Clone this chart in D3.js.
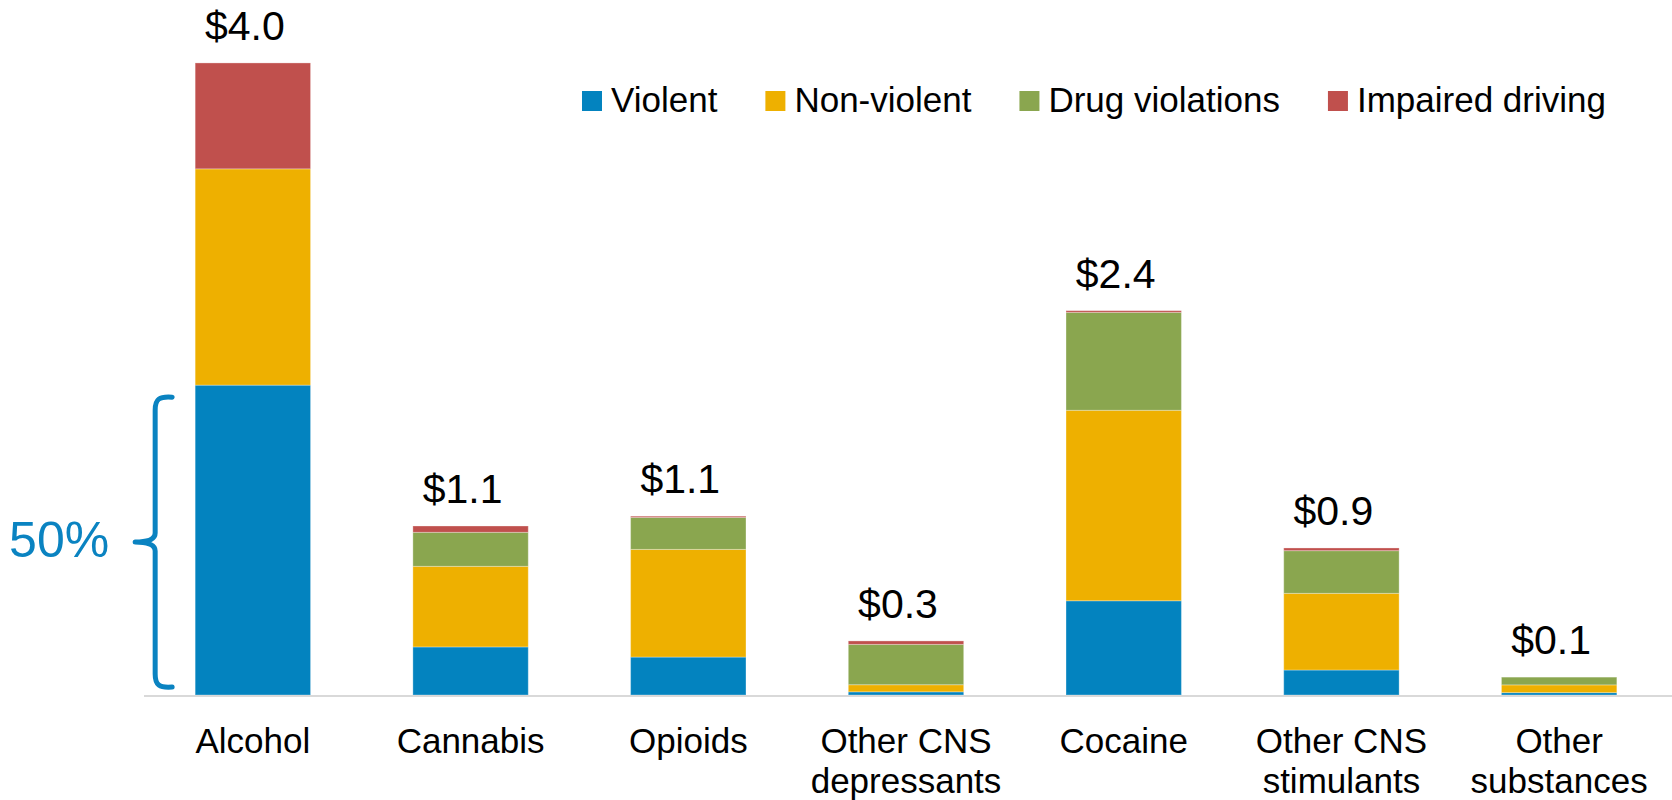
<!DOCTYPE html>
<html>
<head>
<meta charset="utf-8">
<script src="https://cdn.jsdelivr.net/npm/d3@7"></script>
<style>
  html, body { margin: 0; padding: 0; background: #fff; }
  svg { display: block; font-family: "Liberation Sans", Arial, sans-serif; }
</style>
</head>
<body>
<svg id="chart" width="1672" height="800"></svg>
<script>
// Substance categories (axis labels, split over lines)
const categories = ["Alcohol", "Cannabis", "Opioids", "Other CNS depressants", "Cocaine", "Other CNS stimulants", "Other substances"];
const categoryLines = [["Alcohol"], ["Cannabis"], ["Opioids"], ["Other CNS", "depressants"], ["Cocaine"], ["Other CNS", "stimulants"], ["Other", "substances"]];

// Criminal justice costs by crime type ($ billions)
const seriesNames = ["Violent", "Non-violent", "Drug violations", "Impaired driving"];
const violent         = [1.960, 0.304, 0.240, 0.020, 0.596, 0.158, 0.015];
const nonViolent      = [1.368, 0.510, 0.681, 0.045, 1.205, 0.485, 0.049];
const drugViolations  = [0.000, 0.215, 0.202, 0.255, 0.619, 0.270, 0.049];
const impairedDriving = [0.670, 0.040, 0.008, 0.022, 0.011, 0.017, 0.000];
const seriesColors = ["#0383BF", "#EEB000", "#8AA64F", "#C0504D"];

const yMax = 4.2;
const shareLabel = "50%";

const svg = d3.select("#chart");
const W = 1672;

const rows = categories.map((c, i) => ({
  category: c,
  "Violent": violent[i],
  "Non-violent": nonViolent[i],
  "Drug violations": drugViolations[i],
  "Impaired driving": impairedDriving[i]
}));

const x = d3.scaleBand()
  .domain(categories)
  .range([144, 1668])
  .paddingInner(0.47)
  .paddingOuter(0.235);

const y = d3.scaleLinear().domain([0, yMax]).range([695, 31]);

const color = d3.scaleOrdinal().domain(seriesNames).range(seriesColors);

const stacked = d3.stack().keys(seriesNames)(rows);

// Stacked bars
svg.append("g")
  .selectAll("g")
  .data(stacked)
  .join("g")
  .attr("fill", d => color(d.key))
  .selectAll("rect")
  .data(d => d.map(s => ({ s, cat: s.data.category })))
  .join("rect")
  .attr("x", d => x(d.cat))
  .attr("width", x.bandwidth())
  .attr("y", d => y(d.s[1]))
  .attr("height", d => Math.max(0, y(d.s[0]) - y(d.s[1])))
  .attr("stroke", "#fff")
  .attr("stroke-opacity", d => (d.s[1] - d.s[0]) > 0 ? 0.3 : 0)
  .attr("stroke-width", 1);

// Baseline
svg.append("line")
  .attr("x1", x.range()[0]).attr("x2", W)
  .attr("y1", y(0) + 1).attr("y2", y(0) + 1)
  .attr("stroke", "#D9D9D9").attr("stroke-width", 2);

// Category axis labels
const xAxis = d3.axisBottom(x).tickSize(0).tickFormat("");
const axisG = svg.append("g").attr("transform", `translate(0,${y(0)})`).call(xAxis);
axisG.select(".domain").remove();
axisG.selectAll(".tick").each(function(d, i) {
  const t = d3.select(this).append("text")
    .attr("text-anchor", "middle")
    .attr("fill", "#000")
    .style("font-size", "35px")
    .style("font-family", "'Liberation Sans', Arial, sans-serif");
  categoryLines[i].forEach((line, j) => {
    t.append("tspan").attr("x", 0).attr("y", 58 + j * 40).text(line);
  });
});

// Total labels above bars
const totals = rows.map(r => seriesNames.reduce((a, k) => a + r[k], 0));
const fmt = d3.format("$.1f");
svg.append("g")
  .selectAll("text")
  .data(categories)
  .join("text")
  .attr("x", d => x(d) + x.bandwidth() / 2)
  .attr("dx", -8)
  .attr("y", (d, i) => y(totals[i]) - 23)
  .attr("text-anchor", "middle")
  .attr("fill", "#000")
  .style("font-size", "41px")
  .text((d, i) => fmt(totals[i]));

// Legend
const legend = svg.append("g").attr("transform", "translate(582,0)");
let lx = 0;
seriesNames.forEach(name => {
  const g = legend.append("g").attr("transform", `translate(${lx},0)`);
  g.append("rect").attr("x", 0).attr("y", 91).attr("width", 20).attr("height", 20).attr("fill", color(name));
  const t = g.append("text").attr("x", 29).attr("y", 112).attr("fill", "#000")
    .style("font-size", "35px").text(name);
  lx += 29 + t.node().getComputedTextLength() + 48;
});

// Brace marking the violent share of the alcohol bar
const braceColor = "#0A83C1";
const spine = x("Alcohol") - 40;
const braceTop = y(violent[0]) + 12;
const braceBottom = y(0) - 8;
const braceMid = (braceTop + braceBottom) / 2;
const tipR = spine + 17;
const tipL = spine - 20;
const p = d3.path();
p.moveTo(tipR, braceTop);
p.bezierCurveTo(spine + 4, braceTop - 1, spine, braceTop + 2, spine, braceTop + 13);
p.lineTo(spine, braceMid - 9);
p.quadraticCurveTo(spine, braceMid, tipL, braceMid);
p.quadraticCurveTo(spine, braceMid, spine, braceMid + 9);
p.lineTo(spine, braceBottom - 13);
p.bezierCurveTo(spine, braceBottom - 2, spine + 4, braceBottom + 1, tipR, braceBottom);
svg.append("path")
  .attr("d", p.toString())
  .attr("fill", "none")
  .attr("stroke", braceColor)
  .attr("stroke-width", 5)
  .attr("stroke-linecap", "round")
  .attr("stroke-linejoin", "round");

svg.append("text")
  .attr("x", tipL - 26)
  .attr("y", braceMid + 15)
  .attr("text-anchor", "end")
  .attr("fill", braceColor)
  .style("font-size", "50px")
  .text(shareLabel);
</script>
</body>
</html>
